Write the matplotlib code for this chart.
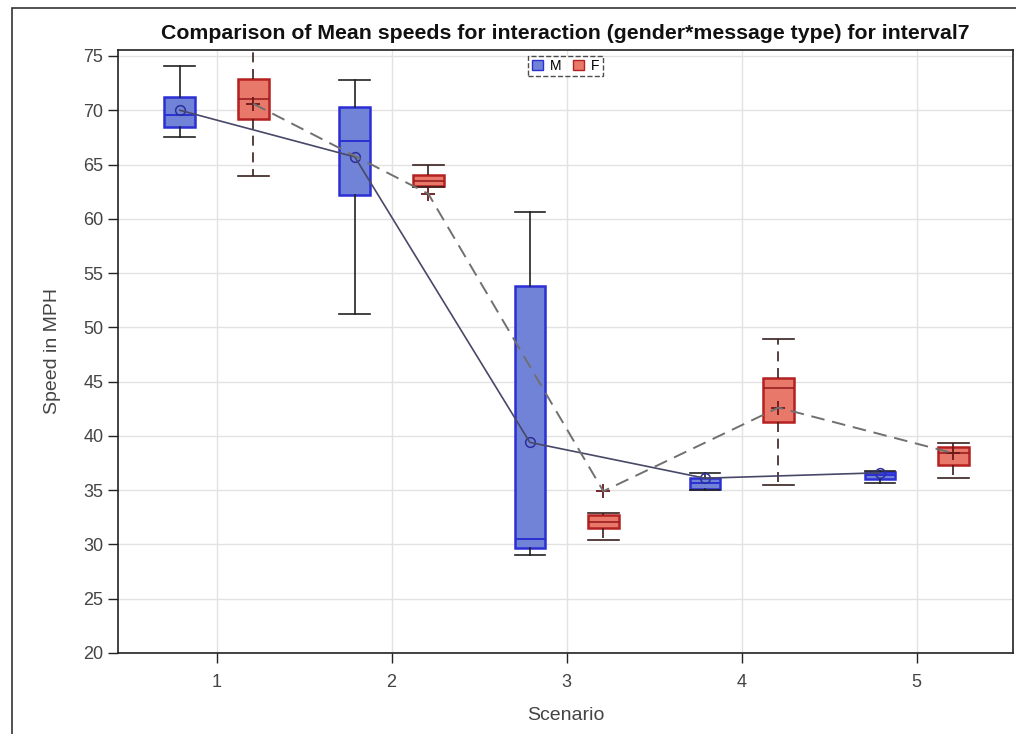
import matplotlib
matplotlib.use("Agg")
import matplotlib.pyplot as plt
from matplotlib.patches import Patch, Rectangle

plt.rcParams["font.family"] = ["Liberation Sans", "DejaVu Sans"]

scenarios = [1, 2, 3, 4, 5]

# M (male) box statistics per scenario
m_whislo = [67.5, 51.2, 29.0, 35.0, 35.7]
m_q1 = [68.5, 62.2, 29.7, 35.1, 36.05]
m_med = [69.6, 67.2, 30.5, 35.7, 36.4]
m_q3 = [71.2, 70.3, 53.85, 36.1, 36.7]
m_whishi = [74.1, 72.8, 60.6, 36.6, 36.8]
m_mean = [70.0, 65.7, 39.4, 36.1, 36.6]

# F (female) box statistics per scenario
f_whislo = [63.9, 62.9, 30.4, 35.5, 36.1]
f_q1 = [69.2, 63.0, 31.5, 41.25, 37.3]
f_med = [71.0, 63.5, 32.1, 44.4, 38.4]
f_q3 = [72.9, 64.0, 32.75, 45.35, 39.0]
f_whishi = [76.5, 65.0, 32.9, 48.9, 39.3]
f_mean = [70.6, 62.3, 34.9, 42.6, 38.4]

offset = 0.21
box_w = 0.175


def make_stats(lo, q1, med, q3, hi, mean):
    return [dict(whislo=a, q1=b, med=c, q3=d, whishi=e, mean=f, fliers=[])
            for a, b, c, d, e, f in zip(lo, q1, med, q3, hi, mean)]


fig = plt.figure(figsize=(10.16, 7.34), dpi=100)
ax = fig.add_axes([0.1161, 0.1104, 0.997 - 0.1161, 0.9319 - 0.1104])

# outer frame of the graph
fig.patches.append(Rectangle((11.5 / 1016, -0.01), 1.1, 1 - 8 / 734 + 0.01,
                             transform=fig.transFigure, fill=False,
                             edgecolor="#333333", linewidth=1.2))

ax.grid(True, color="#e2e2e2", linewidth=1.0)
ax.set_axisbelow(True)

m_pos = [s - offset for s in scenarios]
f_pos = [s + offset for s in scenarios]

ax.bxp(make_stats(m_whislo, m_q1, m_med, m_q3, m_whishi, m_mean),
       positions=m_pos, widths=box_w, patch_artist=True, showmeans=True,
       boxprops=dict(facecolor="#7183d6", edgecolor="#2b2fd4", linewidth=1.8),
       medianprops=dict(color="#2b2fd4", linewidth=1.4),
       whiskerprops=dict(color="#222222", linewidth=1.2),
       capprops=dict(color="#222222", linewidth=1.2),
       meanprops=dict(marker="o", markerfacecolor="none", markeredgecolor="#2b2f9a",
                      markersize=7, markeredgewidth=1.1),
       capwidths=box_w, zorder=3)

ax.bxp(make_stats(f_whislo, f_q1, f_med, f_q3, f_whishi, f_mean),
       positions=f_pos, widths=box_w, patch_artist=True, showmeans=True,
       boxprops=dict(facecolor="#e8786a", edgecolor="#b52020", linewidth=1.8),
       medianprops=dict(color="#9a2020", linewidth=1.2),
       whiskerprops=dict(color="#3a2020", linewidth=1.2, linestyle=(0, (6, 4))),
       capprops=dict(color="#3a2020", linewidth=1.2),
       meanprops=dict(marker="+", markeredgecolor="#6a1818",
                      markersize=10, markeredgewidth=1.3),
       capwidths=box_w, zorder=3)

# mean connecting lines, drawn over the boxes
ax.plot(m_pos, m_mean, color="#484868", linewidth=1.2, zorder=5)
ax.plot(f_pos, f_mean, color="#707070", linewidth=1.4, linestyle=(0, (7, 4)), zorder=5)

ax.set_xlim(0.437, 5.55)
ax.set_ylim(20, 75.55)
ax.set_xticks(scenarios)
ax.set_xticklabels([str(s) for s in scenarios])
ax.set_yticks(range(20, 80, 5))

ax.tick_params(axis="both", direction="out", length=7, width=1, color="#222222",
               labelcolor="#444444", labelsize=13)
ax.tick_params(axis="x", pad=8)
for sp in ax.spines.values():
    sp.set_color("#222222")
    sp.set_linewidth(1.2)

ax.set_xlabel("Scenario", fontsize=14, color="#444444", labelpad=12)
ax.set_ylabel("Speed in MPH", fontsize=14, color="#444444", labelpad=16)
ax.set_title("Comparison of Mean speeds for interaction (gender*message type) for interval7",
             fontsize=15.3, fontweight="bold", color="#111111", pad=8)

handles = [Patch(facecolor="#7183d6", edgecolor="#2b2fd4", label="M"),
           Patch(facecolor="#e8786a", edgecolor="#b52020", label="F")]
leg = ax.legend(handles=handles, loc="upper center", ncol=2, fontsize=10,
                frameon=True, fancybox=False, borderaxespad=0.4,
                handlelength=0.8, handleheight=0.8, handletextpad=0.5,
                columnspacing=0.8, borderpad=0.25)
leg.get_frame().set_linestyle("--")
leg.get_frame().set_edgecolor("#222222")
leg.get_frame().set_linewidth(1.0)
leg.set_zorder(6)

fig.savefig("out.png", dpi=100)
